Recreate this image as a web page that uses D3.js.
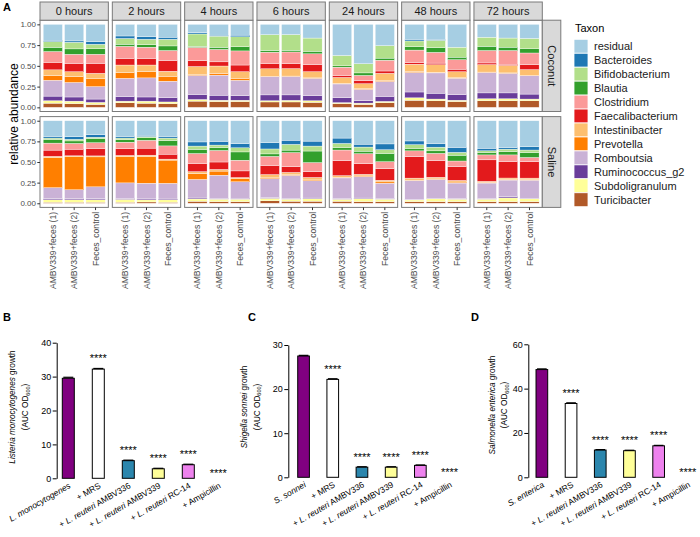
<!DOCTYPE html>
<html><head><meta charset="utf-8">
<script src="https://cdn.jsdelivr.net/npm/d3@7"></script>
<style>body{margin:0;background:#fff} svg{font-family:"Liberation Sans",Arial,sans-serif}</style>
</head><body><svg id="c" width="700" height="537"></svg>
<script>
// ---------- Panel A data ----------
const taxa = ["residual","Bacteroides","Bifidobacterium","Blautia","Clostridium","Faecalibacterium","Intestinibacter","Prevotella","Romboutsia","Ruminococcus_g2","Subdoligranulum","Turicibacter"];
const taxonColors = ["#a6cee3","#1f78b4","#b2df8a","#33a02c","#fb9a99","#e31a1c","#fdbf6f","#ff7f00","#cab2d6","#6a3d9a","#ffff99","#b15928"];
const times = ["0 hours","2 hours","4 hours","6 hours","24 hours","48 hours","72 hours"];
const samples = ["AMBV339+feces (1)","AMBV339+feces (2)","Feces_control"];
const yTicksA = [0,0.25,0.5,0.75,1];
// each bar: abundances in taxa order (residual ... Turicibacter)
const coconut = [
 [[0.19,0.016,0.07,0.05,0.13,0.09,0.07,0.055,0.19,0.055,0.03,0.05],
  [0.20,0.016,0.08,0.065,0.11,0.10,0.06,0.07,0.175,0.05,0.03,0.045],
  [0.21,0.03,0.055,0.065,0.11,0.12,0.06,0.10,0.15,0.04,0.025,0.035]],
 [[0.14,0.03,0.07,0.025,0.145,0.08,0.09,0.07,0.22,0.055,0.02,0.055],
  [0.15,0.03,0.065,0.03,0.135,0.08,0.08,0.075,0.23,0.05,0.025,0.05],
  [0.155,0.025,0.08,0.055,0.12,0.13,0.06,0.06,0.20,0.05,0.02,0.045]],
 [[0.10,0.016,0.15,0.012,0.16,0.07,0.10,0.008,0.229,0.06,0.02,0.075],
  [0.13,0.012,0.135,0.025,0.15,0.05,0.09,0.02,0.242,0.06,0.016,0.07],
  [0.13,0.02,0.12,0.05,0.17,0.08,0.08,0.024,0.185,0.055,0.016,0.07]],
 [[0.125,0,0.19,0.02,0.14,0.06,0.09,0.005,0.22,0.07,0.015,0.065],
  [0.12,0.003,0.19,0.02,0.14,0.06,0.09,0.005,0.222,0.065,0.02,0.065],
  [0.165,0,0.16,0.03,0.13,0.085,0.075,0.005,0.21,0.06,0.02,0.06]],
 [[0.375,0,0.125,0.016,0.10,0.024,0.07,0.008,0.165,0.06,0.012,0.045],
  [0.475,0,0.11,0.03,0.065,0.035,0.06,0.008,0.136,0.03,0.016,0.035],
  [0.257,0,0.15,0.025,0.13,0.028,0.09,0.008,0.18,0.06,0.016,0.056]],
 [[0.18,0.02,0.07,0.04,0.15,0.02,0.09,0.01,0.235,0.07,0.03,0.085],
  [0.18,0.012,0.09,0.055,0.13,0.02,0.09,0.008,0.245,0.07,0.02,0.08],
  [0.275,0,0.12,0.03,0.115,0.03,0.07,0.008,0.2,0.065,0.016,0.07]],
 [[0.155,0,0.11,0.05,0.15,0.02,0.09,0.005,0.246,0.07,0.024,0.08],
  [0.165,0,0.11,0.04,0.165,0.015,0.09,0.005,0.236,0.07,0.024,0.08],
  [0.17,0,0.125,0.05,0.14,0.06,0.07,0.005,0.22,0.06,0.02,0.08]]
];
const saline = [
 [[0.19,0.02,0.016,0.045,0.085,0.075,0.016,0.364,0.135,0.012,0.03,0.012],
  [0.195,0.03,0.02,0.03,0.07,0.08,0.012,0.40,0.11,0.012,0.03,0.012],
  [0.17,0.03,0.016,0.05,0.07,0.09,0.012,0.363,0.145,0.012,0.03,0.012]],
 [[0.19,0.02,0.02,0.03,0.08,0.08,0.016,0.317,0.19,0.01,0.035,0.012],
  [0.175,0.016,0.016,0.03,0.095,0.085,0.016,0.324,0.19,0.012,0.025,0.016],
  [0.19,0.02,0.03,0.065,0.10,0.06,0.012,0.281,0.19,0.01,0.03,0.012]],
 [[0.257,0.05,0.04,0.05,0.125,0.095,0.024,0.07,0.225,0.012,0.028,0.024],
  [0.25,0.045,0.03,0.035,0.14,0.09,0.02,0.05,0.282,0.008,0.03,0.02],
  [0.278,0.05,0.05,0.10,0.13,0.08,0.012,0.04,0.20,0.01,0.03,0.02]],
 [[0.267,0.075,0.06,0.03,0.11,0.11,0.04,0.01,0.23,0.008,0.03,0.03],
  [0.236,0.05,0.07,0.03,0.17,0.07,0.024,0.012,0.28,0.008,0.025,0.025],
  [0.247,0.06,0.06,0.14,0.11,0.07,0.03,0.01,0.21,0.008,0.03,0.025]],
 [[0.21,0.065,0.05,0.03,0.13,0.18,0.02,0.008,0.25,0.008,0.025,0.024],
  [0.284,0.035,0.05,0.03,0.12,0.13,0.02,0.008,0.26,0.008,0.035,0.02],
  [0.281,0.07,0.045,0.10,0.085,0.14,0.02,0.016,0.185,0.008,0.03,0.02]],
 [[0.245,0.045,0.045,0.03,0.07,0.26,0.025,0.005,0.23,0.005,0.02,0.02],
  [0.28,0.04,0.045,0.03,0.09,0.20,0.02,0.005,0.23,0.005,0.035,0.02],
  [0.323,0.06,0.035,0.07,0.07,0.165,0.02,0.012,0.19,0.005,0.03,0.02]],
 [[0.334,0.03,0.02,0.03,0.06,0.26,0.016,0.005,0.19,0.005,0.03,0.02],
  [0.324,0.02,0.03,0.04,0.08,0.20,0.02,0.005,0.20,0.016,0.045,0.02],
  [0.315,0.04,0.03,0.06,0.05,0.20,0.02,0.005,0.22,0.005,0.035,0.02]]
];

// ---------- Panels B-D data ----------
// label parts: [plain prefix, italic, plain suffix]
const groupsB = [["","L. monocytogenes",""],["+ MRS","",""],["+ ","L. reuteri"," AMBV336"],["+ ","L. reuteri"," AMBV339"],["+ ","L. reuteri"," RC-14"],["+ Ampicillin","",""]];
const groupsC = [["","S. sonnei",""],["+ MRS","",""],["+ ","L. reuteri"," AMBV336"],["+ ","L. reuteri"," AMBV339"],["+ ","L. reuteri"," RC-14"],["+ Ampicillin","",""]];
const groupsD = [["","S. enterica",""],["+ MRS","",""],["+ ","L. reuteri"," AMBV336"],["+ ","L. reuteri"," AMBV339"],["+ ","L. reuteri"," RC-14"],["+ Ampicillin","",""]];
const valuesB = [29.5, 32.2, 5.2, 2.8, 4.0, 0];
const errorsB = [0.3, 0.2, 0.15, 0.15, 0.15, 0];
const valuesC = [27.5, 22.2, 2.3, 2.3, 2.7, 0];
const errorsC = [0.15, 0.15, 0.1, 0.1, 0.1, 0];
const valuesD = [48.6, 33.3, 12.3, 12.0, 14.2, 0];
const errorsD = [0.3, 0.3, 0.2, 0.2, 0.2, 0];
const signif = ["", "****", "****", "****", "****", "****"];
const barColors = ["#800080","#ffffff","#2b86ad","#ffff99","#ee82ee","#ffffff"];
const ticksB = [0,10,20,30,40], ticksC = [0,10,20,30], ticksD = [0,20,40,60];

const svg = d3.select("#c");
svg.append("rect").attr("width",700).attr("height",537).attr("fill","#fff");

// ---------- Panel A ----------
const fx = d3.scaleBand().domain(times).range([40, 542.3]).paddingInner(0.055);
const xs = d3.scaleBand().domain(samples).range([0, fx.bandwidth()]).paddingInner(0.1).paddingOuter(0.15);
const rows = [{name:"Coconut", data:coconut, top:20.2, bottom:111.5},
              {name:"Saline", data:saline, top:116.6, bottom:207.4}];
const stack = d3.stack().keys(d3.range(taxa.length).reverse()).value((d,k)=>d[k]).offset(d3.stackOffsetExpand);

rows.forEach((row, ri) => {
  const y = d3.scaleLinear().domain([-0.05,1.05]).range([row.bottom, row.top]);
  times.forEach((t, ti) => {
    const g = svg.append("g").attr("transform", `translate(${fx(t)},0)`);
    g.append("rect").attr("x",0).attr("y",row.top).attr("width",fx.bandwidth()).attr("height",row.bottom-row.top).attr("fill","#fff");
    const series = stack(row.data[ti]);
    series.forEach(s => {
      g.selectAll(null).data(s).enter().append("rect")
        .attr("x",(d,j)=>xs(samples[j]))
        .attr("width",xs.bandwidth())
        .attr("y",d=>y(d[1]))
        .attr("height",d=>Math.max(0,y(d[0])-y(d[1])))
        .attr("fill",taxonColors[s.key])
        .attr("stroke","#fff").attr("stroke-width",0.35);
    });
    g.append("rect").attr("x",0).attr("y",row.top).attr("width",fx.bandwidth()).attr("height",row.bottom-row.top)
      .attr("fill","none").attr("stroke","#7a7a7a").attr("stroke-width",1);
    if (ri === 0) {
      g.append("rect").attr("x",0).attr("y",2).attr("width",fx.bandwidth()).attr("height",row.top-2)
        .attr("fill","#d9d9d9").attr("stroke","#7a7a7a").attr("stroke-width",1);
      g.append("text").attr("x",fx.bandwidth()/2).attr("y",15).attr("text-anchor","middle")
        .attr("font-size",11).attr("fill","#1a1a1a").text(t);
    }
    if (ri === 1) {
      const ax = g.append("g").attr("transform",`translate(0,${row.bottom})`)
        .call(d3.axisBottom(xs).tickSize(2.7).tickSizeOuter(0));
      ax.select(".domain").remove();
      ax.selectAll("line").attr("stroke","#333");
      ax.selectAll("text").attr("transform","rotate(-90)").attr("x",-4.5).attr("y",0).attr("dy","0.35em")
        .style("text-anchor","end").attr("font-size",8.6).attr("fill","#4d4d4d").attr("font-family","Liberation Sans, Arial, sans-serif");
    }
  });
  // left axis
  const ay = svg.append("g").attr("transform","translate(40,0)")
    .call(d3.axisLeft(y).tickValues(yTicksA).tickFormat(d3.format(".2f")).tickSize(2.7));
  ay.select(".domain").remove();
  ay.selectAll("line").attr("stroke","#333");
  ay.selectAll("text").attr("font-size",8).attr("fill","#4d4d4d").attr("x",-4).attr("font-family","Liberation Sans, Arial, sans-serif");
  // right strip
  const x0 = 542.3;
  svg.append("rect").attr("x",x0).attr("y",row.top).attr("width",18.5).attr("height",row.bottom-row.top)
    .attr("fill","#d9d9d9").attr("stroke","#7a7a7a").attr("stroke-width",1);
  svg.append("text").attr("transform",`translate(${x0+5.5},${(row.top+row.bottom)/2}) rotate(90)`)
    .attr("text-anchor","middle").attr("font-size",11).attr("fill","#1a1a1a").text(row.name);
});
svg.append("text").attr("transform","translate(18,114) rotate(-90)").attr("text-anchor","middle")
  .attr("font-size",12).attr("fill","#000").text("relative abundance");
svg.append("text").attr("x",3).attr("y",11).attr("font-size",11).attr("font-weight","bold").text("A");

// legend
const lg = svg.append("g").attr("transform","translate(574,0)");
lg.append("text").attr("x",1).attr("y",32).attr("font-size",11).attr("fill","#000").text("Taxon");
taxa.forEach((t,i) => {
  const yy = 39.3 + 13.95*i;
  lg.append("rect").attr("x",0).attr("y",yy).attr("width",14).attr("height",13.95)
    .attr("fill",taxonColors[i]).attr("stroke","#fff").attr("stroke-width",0.8);
  lg.append("text").attr("x",20).attr("y",yy+7).attr("dy","0.36em").attr("font-size",11).attr("fill","#1a1a1a").text(t);
});

// ---------- Panels B-D ----------
function barPanel(cfg) {
  const g = svg.append("g");
  const y = d3.scaleLinear().domain([0, cfg.max]).range([cfg.y0, cfg.yTop]);
  const x = d3.scaleBand().domain(d3.range(cfg.values.length)).range(cfg.xRange).paddingInner(0.6).paddingOuter(0.1);
  const ax = g.append("g").attr("transform",`translate(${cfg.axisX},0)`)
    .call(d3.axisLeft(y).tickValues(cfg.ticks).tickSize(4).tickSizeOuter(0));
  ax.select(".domain").attr("stroke","#000");
  ax.selectAll("line").attr("stroke","#000");
  ax.selectAll("text").attr("font-size",9).attr("fill","#000").attr("x",-5.5).attr("font-family","Liberation Sans, Arial, sans-serif");
  g.selectAll(null).data(cfg.values).enter().append("rect")
    .attr("x",(d,i)=>x(i)).attr("width",x.bandwidth())
    .attr("y",d=>y(d)).attr("height",d=>cfg.y0-y(d))
    .attr("fill",(d,i)=>barColors[i]).attr("stroke","#000").attr("stroke-width",d=>d>0?1:0);
  // error caps
  g.selectAll(null).data(cfg.values).enter().filter(d=>d>0).append("line")
    .attr("x1",(d,i)=>x(i)+1).attr("x2",(d,i)=>x(i)+x.bandwidth()-1)
    .attr("y1",(d,i)=>y(d+cfg.errors[i])).attr("y2",(d,i)=>y(d+cfg.errors[i]))
    .attr("stroke","#000").attr("stroke-width",1.2);
  // stars
  g.selectAll(null).data(cfg.values).enter().append("text")
    .attr("x",(d,i)=>x(i)+x.bandwidth()/2)
    .attr("y",(d,i)=> d>0 ? y(d+cfg.errors[i]) - 6 : cfg.y0 - 1.5)
    .attr("text-anchor","middle").attr("font-size",11).attr("fill","#000")
    .text((d,i)=>signif[i]);
  // x labels
  cfg.groups.forEach((parts,i) => {
    const tx = g.append("text")
      .attr("transform",`translate(${x(i)+x.bandwidth()/2+3},${cfg.y0+9}) rotate(-30)`)
      .attr("text-anchor","end").attr("font-size",8.5).attr("fill","#000");
    if (parts[0]) tx.append("tspan").text(parts[0]);
    if (parts[1]) tx.append("tspan").attr("font-style","italic").text(parts[1]);
    if (parts[2]) tx.append("tspan").text(parts[2]);
  });
  // y title
  const t1 = g.append("text").attr("transform",`translate(${cfg.titleX1},${cfg.titleY}) rotate(-90)`)
    .attr("text-anchor","middle").attr("font-size",8.2).attr("fill","#000");
  t1.append("tspan").attr("font-style","italic").text(cfg.organism);
  t1.append("tspan").text(" growth");
  const t2 = g.append("text").attr("transform",`translate(${cfg.titleX2},${cfg.titleY}) rotate(-90)`)
    .attr("text-anchor","middle").attr("font-size",8.2).attr("fill","#000");
  t2.append("tspan").text("(AUC OD");
  t2.append("tspan").attr("font-size",5.5).attr("dy",1.8).text("600");
  t2.append("tspan").attr("dy",-1.8).text(")");
  svg.append("text").attr("x",cfg.letterX).attr("y",321).attr("font-size",11).attr("font-weight","bold").text(cfg.letter);
}

barPanel({letter:"B", letterX:3, values:valuesB, errors:errorsB, groups:groupsB, max:40, ticks:ticksB,
  y0:478.3, yTop:342.7, axisX:56.7, xRange:[59.3, 227.3], organism:"Listeria monocytogenes",
  titleX1:15, titleX2:28, titleY:407});
barPanel({letter:"C", letterX:248, values:valuesC, errors:errorsC, groups:groupsC, max:30, ticks:ticksC,
  y0:477.3, yTop:345, axisX:288.3, xRange:[294.8, 458.3], organism:"Shigella sonnei",
  titleX1:247, titleX2:259.5, titleY:407});
barPanel({letter:"D", letterX:471, values:valuesD, errors:errorsD, groups:groupsD, max:60, ticks:ticksD,
  y0:477.3, yTop:344.3, axisX:528.3, xRange:[533.1, 696.6], organism:"Salmonella enterica",
  titleX1:494.5, titleX2:507, titleY:405});
</script></body></html>
